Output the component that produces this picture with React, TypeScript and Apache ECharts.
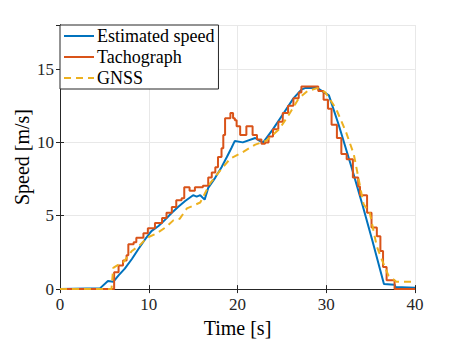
import React, { useEffect, useRef } from "react";
import * as echarts from "echarts";

const estTime = [0, 4.5, 5.4, 6.0, 6.6, 7.3, 8.1, 8.8, 9.6, 10.3, 11.1, 11.8, 12.6, 13.3, 14.1, 15.0, 15.4, 15.8, 16.3, 16.7, 17.5, 18.2, 18.8, 19.3, 19.7, 20.6, 22.0, 22.5, 22.9, 24.0, 25.1, 26.3, 27.2, 27.6, 29.0, 30.3, 31.4, 32.9, 34.1, 35.2, 36.5, 37.7, 37.8, 40.0];
const estSpeed = [0, 0.05, 0.55, 0.5, 0.94, 1.4, 2.05, 2.7, 3.4, 3.95, 4.3, 4.7, 5.2, 5.6, 6.0, 6.4, 6.3, 6.4, 6.1, 6.9, 7.6, 8.3, 9.0, 9.6, 10.1, 10.0, 10.3, 10.1, 10.0, 10.9, 11.9, 13.0, 13.6, 13.7, 13.7, 13.2, 11.2, 8.2, 5.7, 3.3, 0.35, 0.3, 0.15, 0.1];

const tachoTime = [0, 6.1, 6.6, 7.1, 7.5, 7.7, 8.3, 8.6, 9.4, 9.9, 10.7, 11.5, 12.0, 12.6, 13.1, 13.7, 14.0, 14.6, 15.2, 16.1, 16.7, 17.1, 17.5, 17.8, 18.2, 18.4, 18.6, 19.2, 19.5, 19.7, 19.9, 20.3, 21.0, 21.7, 22.2, 22.7, 23.1, 23.5, 24.0, 24.6, 25.1, 25.7, 26.3, 26.9, 27.2, 29.1, 29.7, 30.2, 30.6, 31.2, 31.7, 32.3, 33.0, 33.6, 33.8, 34.6, 35.1, 35.7, 36.1, 36.4, 36.8, 37.7, 40.0];
const tachoSpeed = [0, 1.15, 1.6, 1.95, 2.3, 3.05, 3.2, 3.5, 3.8, 4.15, 4.5, 4.85, 5.2, 5.6, 6.05, 6.2, 6.95, 6.7, 6.95, 7.05, 7.6, 7.95, 8.3, 9.0, 9.6, 10.5, 11.65, 12.0, 11.65, 11.5, 11.1, 10.5, 11.1, 10.5, 10.2, 9.9, 10.0, 10.4, 10.9, 11.4, 12.0, 12.5, 13.0, 13.4, 13.8, 13.5, 12.9, 12.3, 11.2, 10.3, 9.2, 8.85, 7.6, 7.0, 6.4, 5.2, 4.2, 3.6, 2.6, 1.5, 0.6, 0.0, 0.0];

const gnssTime = [0, 5.8, 6.0, 6.4, 7.1, 8.1, 9.0, 9.8, 10.9, 12.0, 12.8, 13.5, 14.3, 15.8, 16.9, 18.2, 19.2, 20.5, 22.0, 23.2, 24.7, 25.8, 26.9, 27.9, 29.0, 29.9, 31.1, 32.2, 33.1, 34.2, 34.9, 35.7, 36.4, 37.0, 37.9, 39.6, 40.0];
const gnssSpeed = [0, 0, 1.45, 1.6, 1.8, 2.6, 3.0, 3.5, 3.8, 4.25, 4.7, 4.8, 5.5, 5.9, 7.2, 8.2, 8.9, 9.3, 9.85, 10.1, 10.9, 11.9, 13.0, 13.5, 13.7, 13.4, 12.3, 10.75, 9.2, 5.8, 5.2, 2.9, 1.8, 0.94, 0.5, 0.5, 0.3];

const xTicks = [0, 10, 20, 30, 40];
const yTicks = [0, 5, 10, 15];
const seriesNames = ["Estimated speed", "Tachograph", "GNSS"];

const FONT = "Liberation Serif";
const AX = "#262626";

const zip = (a: number[], b: number[]) => a.map((t, i) => [t, b[i]]);

export default function App() {
  const ref = useRef<HTMLDivElement>(null);
  useEffect(() => {
    if (!ref.current) return;
    const chart = echarts.init(ref.current, undefined, { renderer: "svg" });
    const commonAxis = {
      axisLine: { show: true, lineStyle: { color: AX, width: 1 } },
      axisTick: { show: true, inside: true, length: 4, lineStyle: { color: AX } },
    };
    chart.setOption({
      animation: false,
      backgroundColor: "#ffffff",
      textStyle: { fontFamily: FONT },
      grid: { left: 60, right: 43, top: 25, bottom: 49, containLabel: false },
      legend: {
        show: true,
        orient: "vertical",
        left: 60,
        top: 25,
        data: seriesNames,
        itemWidth: 30,
        itemHeight: 10,
        itemGap: 1,
        padding: [1, 4, 1, 3],
        borderColor: AX,
        borderWidth: 1,
        backgroundColor: "#ffffff",
        itemStyle: { opacity: 0 },
        textStyle: { fontFamily: FONT, fontSize: 18, lineHeight: 20, color: "#000", padding: [0, 0, 0, -2] },
      },
      xAxis: [
        {
          type: "value",
          min: xTicks[0],
          max: xTicks[xTicks.length - 1],
          interval: 10,
          name: "Time [s]",
          nameLocation: "middle",
          nameGap: 25,
          nameTextStyle: { fontFamily: FONT, fontSize: 20, color: "#000" },
          axisLabel: { fontFamily: FONT, fontSize: 17, color: AX, margin: 7 },
          splitLine: { show: true, lineStyle: { color: "#e8e8e8", width: 1 } },
          ...commonAxis,
        },
        {
          type: "value",
          position: "top",
          min: xTicks[0],
          max: xTicks[xTicks.length - 1],
          interval: 10,
          axisLabel: { show: false },
          splitLine: { show: false },
          ...commonAxis,
        },
      ],
      yAxis: [
        {
          type: "value",
          min: 0,
          max: 18,
          interval: 5,
          name: "Speed [m/s]",
          nameLocation: "middle",
          nameGap: 28,
          nameMoveOverlap: false,
          nameTextStyle: { fontFamily: FONT, fontSize: 20, color: "#000" },
          axisLabel: {
            fontFamily: FONT,
            fontSize: 17,
            color: AX,
            margin: 6,
            formatter: (v: number) => (yTicks.includes(v) ? String(v) : ""),
          },
          splitLine: { show: true, lineStyle: { color: "#e8e8e8", width: 1 } },
          ...commonAxis,
        },
        {
          type: "value",
          position: "right",
          min: 0,
          max: 18,
          interval: 5,
          axisLabel: { show: false },
          splitLine: { show: false },
          ...commonAxis,
        },
      ],
      series: [
        {
          name: seriesNames[0],
          type: "line",
          data: zip(estTime, estSpeed),
          showSymbol: false,
          symbol: "none",
          lineStyle: { color: "#0072BD", width: 2 },
          itemStyle: { color: "#0072BD" },
          z: 2,
        },
        {
          name: seriesNames[1],
          type: "line",
          step: "end",
          data: zip(tachoTime, tachoSpeed),
          showSymbol: false,
          symbol: "none",
          lineStyle: { color: "#D95319", width: 2 },
          itemStyle: { color: "#D95319" },
          z: 3,
        },
        {
          name: seriesNames[2],
          type: "line",
          data: zip(gnssTime, gnssSpeed),
          showSymbol: false,
          symbol: "none",
          lineStyle: { color: "#EDB120", width: 2, type: [7, 5] },
          itemStyle: { color: "#EDB120" },
          z: 4,
        },
      ],
    });
    return () => chart.dispose();
  }, []);
  return <div ref={ref} style={{ width: 458, height: 343, position: "absolute", left: 0, top: 0 }} />;
}
